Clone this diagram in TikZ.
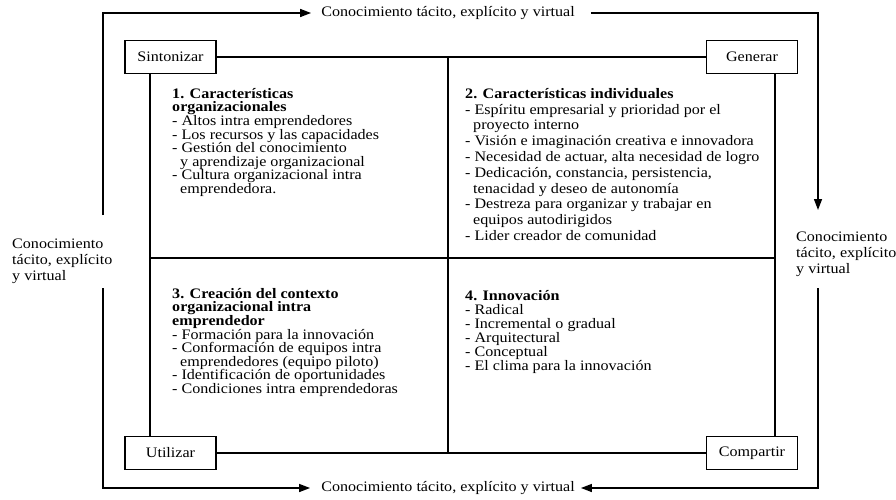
\documentclass[tikz,border=0pt]{standalone}
\usepackage{fontspec}
\setmainfont[FakeStretch=1.11]{Liberation Serif}
\usetikzlibrary{arrows.meta}
\tikzset{etapa/.style={draw, line width=1.6pt, minimum width=91pt, minimum height=33pt, inner sep=0pt, font=\fontsize{14.5}{14.5}\selectfont}}
\tikzset{marco/.style={line width=1.6pt}}
\tikzset{flujo/.style={line width=1.4pt, -{Triangle[length=11pt,width=8pt]}}}
\tikzset{etiqueta/.style={inner sep=0pt, align=left, font=\fontsize{14.5}{15.8}\selectfont}}
\tikzset{cuadro/.style={inner sep=0pt, anchor=north west, align=left, font=\fontsize{14.5}{13.6}\selectfont}}
\newcommand{\sigue}{\hspace*{8pt}}

\begin{document}
\begin{tikzpicture}[x=1pt,y=-1pt]
\useasboundingbox (0,0) rectangle (896,500);
\node[etapa] (sint) at (170.5,57) {Sintonizar};
\node[etapa] (gen) at (752,57) {Generar};
\node[etapa] (util) at (170.5,453) {Utilizar};
\node[etapa] (comp) at (752,453) {Compartir};
\coordinate (medsup) at (448,57);
\coordinate (medinf) at (448,453);
\coordinate (izqmed) at (150,258);
\coordinate (dermed) at (775,258);
\draw[marco] (sint.east) -- (gen.west);
\draw[marco] (util.east) -- (comp.west);
\draw[marco] (sint.south -| izqmed) -- (util.north -| izqmed);
\draw[marco] (gen.south -| dermed) -- (comp.north -| dermed);
\draw[marco] (medsup) -- (medinf);
\draw[marco] (izqmed) -- (dermed);
\node[cuadro] (c1) at (172,88) {\textbf{1. Características}\\
  \textbf{organizacionales}\\
  - Altos intra emprendedores\\
  - Los recursos y las capacidades\\
  - Gestión del conocimiento\\
  \sigue y aprendizaje organizacional\\
  - Cultura organizacional intra\\
  \sigue emprendedora.};
\node[cuadro, font=\fontsize{14.5}{15.8}\selectfont] (c2) at (465,88) {\textbf{2. Características individuales}\\
  - Espíritu empresarial y prioridad por el\\
  \sigue proyecto interno\\
  - Visión e imaginación creativa e innovadora\\
  - Necesidad de actuar, alta necesidad de logro\\
  - Dedicación, constancia, persistencia,\\
  \sigue tenacidad y deseo de autonomía\\
  - Destreza para organizar y trabajar en\\
  \sigue equipos autodirigidos\\
  - Lider creador de comunidad};
\node[cuadro] (c3) at (172,288) {\textbf{3. Creación del contexto}\\
  \textbf{organizacional intra}\\
  \textbf{emprendedor}\\
  - Formación para la innovación\\
  - Conformación de equipos intra\\
  \sigue emprendedores (equipo piloto)\\
  - Identificación de oportunidades\\
  - Condiciones intra emprendedoras};
\node[cuadro, font=\fontsize{14.5}{14}\selectfont] (c4) at (465,290) {\textbf{4. Innovación}\\
  - Radical\\
  - Incremental o gradual\\
  - Arquitectural\\
  - Conceptual\\
  - El clima para la innovación};
\node[etiqueta] (toplbl) at (448,13) {Conocimiento tácito, explícito y virtual};
\node[etiqueta] (botlbl) at (448,488) {Conocimiento tácito, explícito y virtual};
\node[etiqueta, anchor=west] (izqlbl) at (12,261) {Conocimiento\\tácito, explícito\\y virtual};
\node[etiqueta, anchor=west] (derlbl) at (796,254) {Conocimiento\\tácito, explícito\\y virtual};
\coordinate (izqarr) at (103,215);
\coordinate (izqab) at (103,288);
\coordinate (derarr) at (818,210);
\coordinate (derab) at (818,288);
\draw[flujo] (izqarr) |- ([xshift=-10pt]toplbl.west);
\draw[flujo] ([xshift=16pt]toplbl.east) -| (derarr);
\draw[flujo] (derab) |- ([xshift=6pt]botlbl.east);
\draw[flujo] (izqab) |- ([xshift=-11pt]botlbl.west);
\end{tikzpicture}
\end{document}
